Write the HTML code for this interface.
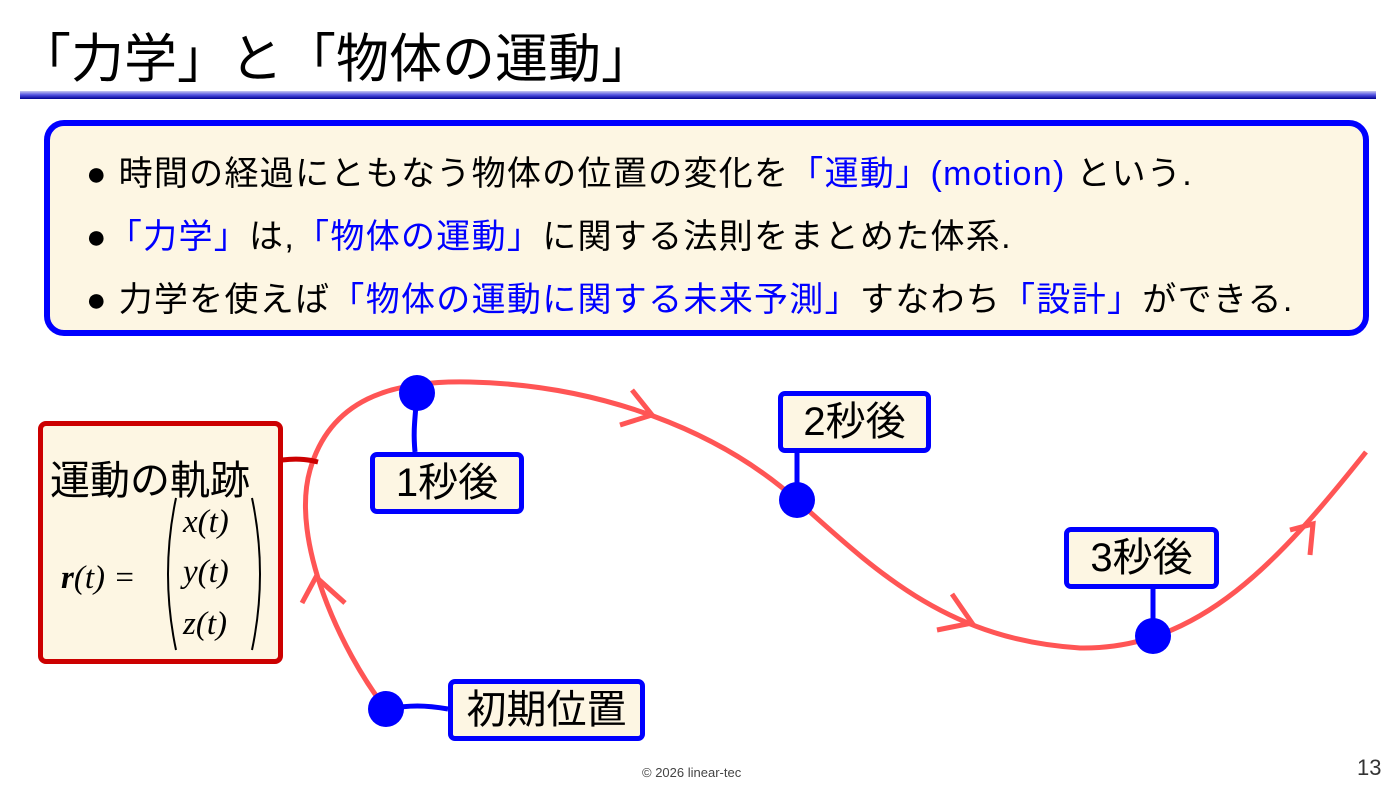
<!DOCTYPE html>
<html><head><meta charset="utf-8"><style>
body{margin:0;width:1396px;height:785px;background:#fff;position:relative;overflow:hidden;font-family:"Liberation Sans","Noto Sans CJK JP",sans-serif}
.t{position:absolute;left:18px;top:17px;font-size:53px;color:#000;white-space:nowrap}
.ul{position:absolute;left:20px;top:91px;width:1356px;height:8px;background:linear-gradient(#c8c8f0,#5050e0 50%,#000090)}
.box{position:absolute;left:44px;top:120px;width:1313px;height:204px;border:6px solid #0000ff;border-radius:20px;background:#fdf6e3}
.li{position:absolute;left:36px;font-size:34px;white-space:nowrap;color:#000;letter-spacing:1.3px}
.b{color:#0000ff}
.lb{position:absolute;border:5px solid #0000ff;border-radius:7px;background:#fdf6e3;font-size:40px;text-align:center;box-sizing:border-box;line-height:52px}
.rb{position:absolute;left:38px;top:421px;width:245px;height:243px;box-sizing:border-box;border:5px solid #cc0000;border-radius:8px;background:#fdf6e3}
.m{font-family:"Liberation Serif","DejaVu Serif",serif;font-style:italic;position:absolute;font-size:33px;white-space:nowrap}
</style></head><body>
<div class="t">「力学」と「物体の運動」</div>
<div class="ul"></div>
<div class="box">
<div class="li" style="top:20px">● 時間の経過にともなう物体の位置の変化を<span class="b">「運動」(motion)</span> という.</div>
<div class="li" style="top:83px">●<span class="b">「力学」</span>は,<span class="b">「物体の運動」</span>に関する法則をまとめた体系.</div>
<div class="li" style="top:146px">● 力学を使えば<span class="b">「物体の運動に関する未来予測」</span>すなわち<span class="b">「設計」</span>ができる.</div>
</div>
<svg style="position:absolute;left:0;top:0" width="1396" height="785">
<g fill="none" stroke="#ff5555" stroke-width="5">
<path d="M386,709 C340,650 290,540 310,470 C330,400 390,380 470,382 C600,385 720,430 800,503 C880,575 950,640 1080,648 C1200,650 1280,560 1366,452"/>
<path d="M632,390 L652,415 L620,425"/>
<path d="M952,594 L972,623 L937,630"/>
<path d="M1290,530 L1313,524 L1310,555"/>
<path d="M302,603 L316,577 L345,603"/>
</g>
<path d="M282,460 C300,458 310,460 318,462" stroke="#cc0000" stroke-width="5" fill="none"/>
<g stroke="#0000ff" stroke-width="5" fill="none">
<path d="M417,393 C415,420 413,430 415,452"/>
<path d="M797,500 L797,452"/>
<path d="M1153,636 L1153,588"/>
<path d="M386,709 C410,705 425,705 448,709"/>
</g>
<g fill="#0000ff"><circle cx="417" cy="393" r="18"/><circle cx="797" cy="500" r="18"/><circle cx="1153" cy="636" r="18"/><circle cx="386" cy="709" r="18"/></g>
</svg>
<div class="lb" style="left:370px;top:452px;width:154px;height:62px">1秒後</div>
<div class="lb" style="left:778px;top:391px;width:153px;height:62px">2秒後</div>
<div class="lb" style="left:1064px;top:527px;width:155px;height:62px">3秒後</div>
<div class="lb" style="left:448px;top:679px;width:197px;height:62px">初期位置</div>
<div class="rb">
<div style="position:absolute;left:7px;top:22px;font-size:40px;white-space:nowrap">運動の軌跡</div>
<div class="m" style="left:18px;top:134px"><b>r</b>(t) =</div>
<div class="m" style="left:140px;top:78px">x(t)</div>
<div class="m" style="left:140px;top:128px">y(t)</div>
<div class="m" style="left:140px;top:180px">z(t)</div>
</div>
<svg style="position:absolute;left:0;top:0" width="1396" height="785">
<g fill="none" stroke="#000" stroke-width="2">
<path d="M176,498 Q160,574 176,650"/>
<path d="M252,498 Q268,574 252,650"/>
</g>
</svg>
<div style="position:absolute;left:642px;top:765px;font-size:13px;color:#444">© 2026 linear-tec</div>
<div style="position:absolute;left:1357px;top:755px;font-size:22px;color:#333">13</div>
</body></html>
